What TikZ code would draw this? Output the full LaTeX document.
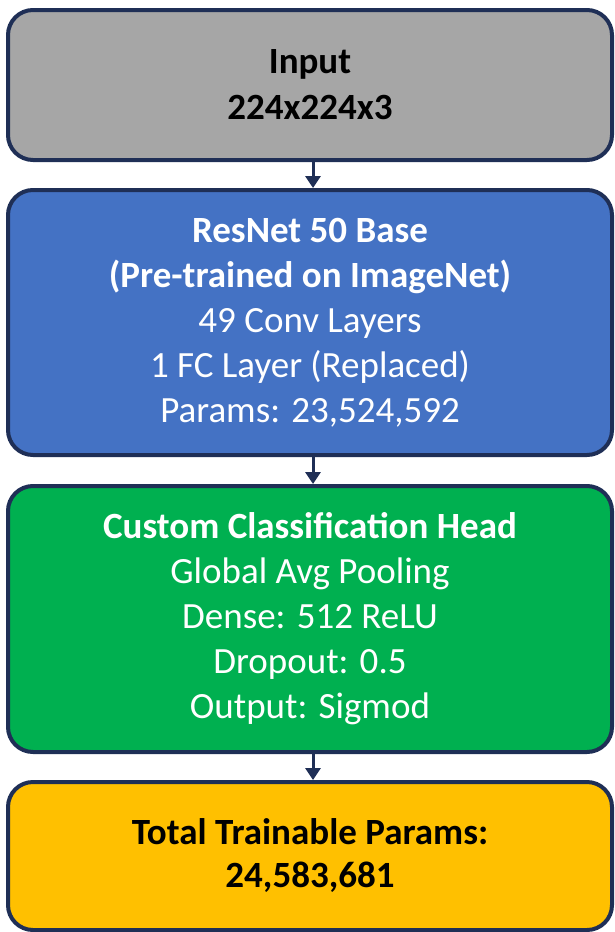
\documentclass[tikz,border=0pt]{standalone}
\usepackage{fontspec}
\setmainfont{Carlito}
\usepackage{tikz}
\usetikzlibrary{arrows.meta,positioning}
\definecolor{EdgeNavy}{RGB}{31, 47, 86}
\definecolor{InputGray}{RGB}{166, 166, 166}
\definecolor{BaseBlue}{RGB}{68, 114, 196}
\definecolor{HeadGreen}{RGB}{0, 176, 80}
\definecolor{TotalYellow}{RGB}{255, 192, 0}

\begin{document}
\begin{tikzpicture}[x=1pt, y=-1pt,
    stage/.style={draw=EdgeNavy, line width=4pt, rounded corners=25pt,
      minimum width=604pt, align=center, inner sep=0pt},
    flow/.style={draw=EdgeNavy, line width=3pt,
      -{Triangle[length=12pt, width=15pt]}}]
    \useasboundingbox (0,0) rectangle (614,932);

    % Input
    \node[stage, fill=InputGray, minimum height=150pt,
      font=\fontsize{37}{46}\selectfont\bfseries] (input) at (310,85)
      {Input\\224x224x3};

    % Pre-trained base
    \node[stage, fill=BaseBlue, minimum height=265pt, text=white,
      font=\fontsize{37}{45}\selectfont] (base) at (310,322.5)
      {\textbf{ResNet 50 Base}\\\textbf{(Pre-trained on ImageNet)}\\49 Conv Layers\\1 FC Layer (Replaced)\\Params: 23,524,592};

    % Classification head
    \node[stage, fill=HeadGreen, minimum height=266pt, text=white,
      font=\fontsize{37}{45}\selectfont] (head) at (310,619)
      {\textbf{Custom Classification Head}\\Global Avg Pooling\\Dense: 512 ReLU\\Dropout: 0.5\\Output: Sigmod};

    % Totals
    \node[stage, fill=TotalYellow, minimum height=148pt,
      font=\fontsize{37}{43}\selectfont\bfseries] (total) at (310,856)
      {Total Trainable Params:\\24,583,681};

    % Arrows
    \draw[flow] ([xshift=3pt]input.south) -- ([xshift=3pt]base.north);
    \draw[flow] ([xshift=3pt]base.south) -- ([xshift=3pt]head.north);
    \draw[flow] ([xshift=3pt]head.south) -- ([xshift=3pt]total.north);
  \end{tikzpicture}
\end{document}
